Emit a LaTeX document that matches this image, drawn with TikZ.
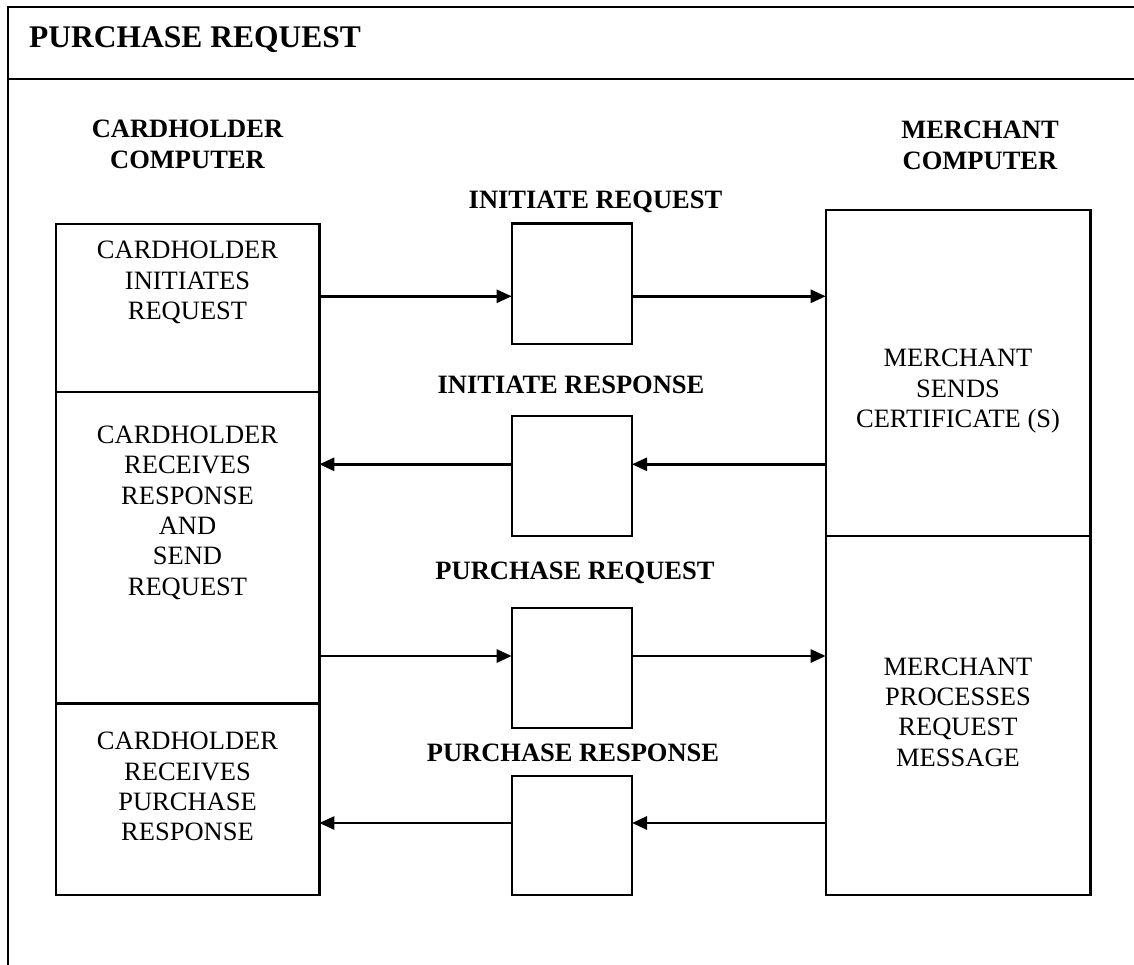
\documentclass[tikz,border=0pt]{standalone}
\usepackage{fontspec}
\setmainfont{Liberation Serif}
\usetikzlibrary{arrows.meta}
\begin{document}
\begin{tikzpicture}[x=1pt,y=-1pt,
  outerframe/.style={line width=2.4pt},
  box/.style={draw, line width=2.4pt, inner sep=0pt, outer sep=0pt, anchor=north west},
  msgbox/.style={box, minimum width=120.3pt},
  boxtext/.style={font=\fontsize{26.5}{30.3}\selectfont, align=center, anchor=base, inner sep=0pt},
  headtext/.style={boxtext, font=\fontsize{26.5}{30.6}\selectfont\bfseries},
  msglabel/.style={font=\fontsize{26.5}{30}\selectfont\bfseries, anchor=base, inner sep=0pt},
  flow/.style={line width=2.6pt, -{Triangle[length=15pt,width=13pt]}}
]
\useasboundingbox (0,0) rectangle (1134,965);

% outer frame with title band
\draw[outerframe] (1150,7) -- (8,7) -- (8,980);
\draw[outerframe] (8,79) -- (1150,79);
\node[anchor=base west, inner sep=0pt, font=\fontsize{31.5}{36}\selectfont\bfseries] (title) at (29,47.7) {PURCHASE REQUEST};

% column headings (anchored at the baseline of the last line)
\node[headtext] (hcard) at (187.5,168.5) {CARDHOLDER\\COMPUTER};
\node[headtext] (hmerch) at (980,169.3) {MERCHANT\\COMPUTER};

% cardholder column
\node[box, minimum width=263.6pt, minimum height=167.9pt] (L1) at (55.7,224.3) {};
\node[box, minimum width=263.6pt, minimum height=311.3pt] (L2) at (55.7,392.2) {};
\node[box, minimum width=263.6pt, minimum height=191.5pt] (L3) at (55.7,703.5) {};
\node[boxtext] (tl1) at (187.5,319.6) {CARDHOLDER\\INITIATES\\REQUEST};
\node[boxtext] (tl2) at (187.5,595) {CARDHOLDER\\RECEIVES\\RESPONSE\\AND\\SEND\\REQUEST};
\node[boxtext] (tl3) at (187.5,840.8) {CARDHOLDER\\RECEIVES\\PURCHASE\\RESPONSE};

% merchant column
\node[box, minimum width=264.8pt, minimum height=325.7pt] (R1) at (825.7,210) {};
\node[box, minimum width=264.8pt, minimum height=359.3pt] (R2) at (825.7,535.7) {};
\node[boxtext] (tr1) at (958,427.3) {MERCHANT\\SENDS\\CERTIFICATE (S)};
\node[boxtext] (tr2) at (958,766) {MERCHANT\\PROCESSES\\REQUEST\\MESSAGE};

% message boxes
\node[msgbox, minimum height=120.3pt] (S1) at (511.7,223.7) {};
\node[msgbox, minimum height=120pt] (S2) at (511.7,416) {};
\node[msgbox, minimum height=120pt] (S3) at (511.7,608) {};
\node[msgbox, minimum height=119pt] (S4) at (511.7,776) {};
\node[msglabel] (m1) at (595.5,208.3) {INITIATE REQUEST};
\node[msglabel] (m2) at (571,393.3) {INITIATE RESPONSE};
\node[msglabel] (m3) at (575,579) {PURCHASE REQUEST};
\node[msglabel] (m4) at (573,761.7) {PURCHASE RESPONSE};

% message flow levels
\coordinate (y1) at (0,296.3);
\coordinate (y2) at (0,464.3);
\coordinate (y3) at (0,656);
\coordinate (y4) at (0,823);

\draw[flow] (L1.east |- y1) -- (S1.west |- y1);
\draw[flow] (S1.east |- y1) -- (R1.west |- y1);
\draw[flow] (R1.west |- y2) -- (S2.east |- y2);
\draw[flow] (S2.west |- y2) -- (L2.east |- y2);
\draw[flow] (L2.east |- y3) -- (S3.west |- y3);
\draw[flow] (S3.east |- y3) -- (R2.west |- y3);
\draw[flow] (R2.west |- y4) -- (S4.east |- y4);
\draw[flow] (S4.west |- y4) -- (L3.east |- y4);
\end{tikzpicture}
\end{document}
